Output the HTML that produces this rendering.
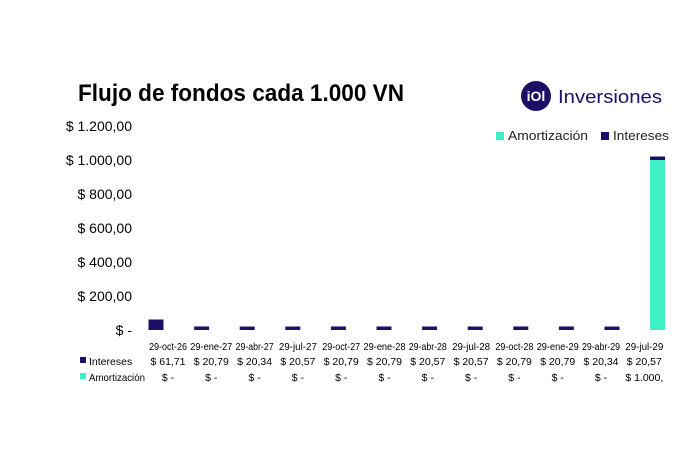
<!DOCTYPE html>
<html><head><meta charset="utf-8"><style>
body{margin:0;background:#fff;width:688px;height:450px;overflow:hidden;font-family:"Liberation Sans",Calibri,sans-serif}
svg text{font-family:"Liberation Sans",sans-serif}
</style></head><body>
<svg width="688" height="450">
<text x="78" y="101" font-size="24" font-weight="bold" fill="#000" textLength="326" lengthAdjust="spacingAndGlyphs">Flujo de fondos cada 1.000 VN</text>
<g>
<circle cx="536" cy="96" r="15" fill="#1e0f66"/>
<text x="536" y="101" font-size="14" font-weight="bold" fill="#fff" text-anchor="middle">iOl</text>
<text x="558" y="103" font-size="18" fill="#1e0f66" textLength="104" lengthAdjust="spacingAndGlyphs">Inversiones</text>
</g>
<g>
<rect x="496" y="132" width="8" height="8" fill="#40efc6"/>
<text x="508" y="140" font-size="13" fill="#222" textLength="80" lengthAdjust="spacingAndGlyphs">Amortización</text>
<rect x="601" y="132" width="8" height="8" fill="#1e0f66"/>
<text x="613" y="140" font-size="13" fill="#222" textLength="56" lengthAdjust="spacingAndGlyphs">Intereses</text>
</g>
<g id="yaxis"></g>
<g id="bars"></g>
<g id="table"></g>
</svg>
<script>
const categories=["29-oct-26","29-ene-27","29-abr-27","29-jul-27","29-oct-27","29-ene-28","29-abr-28","29-jul-28","29-oct-28","29-ene-29","29-abr-29","29-jul-29"];
const intereses=[61.71,20.79,20.34,20.57,20.79,20.79,20.57,20.57,20.79,20.79,20.34,20.57];
const amortizacion=[0,0,0,0,0,0,0,0,0,0,0,1000];
const interesesLabels=["$ 61,71","$ 20,79","$ 20,34","$ 20,57","$ 20,79","$ 20,79","$ 20,57","$ 20,57","$ 20,79","$ 20,79","$ 20,34","$ 20,57"];
const amortLabels=["$ -","$ -","$ -","$ -","$ -","$ -","$ -","$ -","$ -","$ -","$ -","$ 1.000,"];
const yTicks=[0,200,400,600,800,1000,1200];
const yTickLabels=["$ -","$ 200,00","$ 400,00","$ 600,00","$ 800,00","$ 1.000,00","$ 1.200,00"];
const NS="http://www.w3.org/2000/svg";
const y=v=>330-v*0.17;
const barX=i=>156+i*45.6;
const labX=i=>168+i*43.3;
function mk(tag,attrs,parent,txt){const e=document.createElementNS(NS,tag);for(const k in attrs)e.setAttribute(k,attrs[k]);if(txt!==undefined)e.textContent=txt;parent.appendChild(e);return e;}
const ya=document.getElementById('yaxis');
yTicks.forEach((t,i)=>{const e=mk('text',{x:132,y:y(t)+5,'font-size':14,fill:'#000','text-anchor':'end'},ya,yTickLabels[i]);

});
const bg=document.getElementById('bars');
categories.forEach((c,i)=>{
 const a=amortizacion[i],n=intereses[i];
 if(a>0){const r=mk('rect',{x:barX(i)-7.5,y:y(a),width:15,height:y(0)-y(a),fill:'#40efc6'},bg);
 
 }
 const r2=mk('rect',{x:barX(i)-7.5,y:y(a+n),width:15,height:y(a)-y(a+n),fill:'#1e0f66'},bg);
 
 
});
const tb=document.getElementById('table');
categories.forEach((c,i)=>{
 const t1=mk('text',{x:labX(i),y:350,'font-size':10,fill:'#000','text-anchor':'middle',textLength:c.includes('ene')?42:38,lengthAdjust:'spacingAndGlyphs'},tb,c);
 
 
 const t2=mk('text',{x:labX(i),y:365,'font-size':10.5,fill:'#000','text-anchor':'middle',textLength:35,lengthAdjust:'spacingAndGlyphs'},tb,interesesLabels[i]);
 
 
 const t3=mk('text',{x:labX(i),y:381,'font-size':10.5,fill:'#000','text-anchor':'middle'},tb,amortLabels[i]);
 
 
});
const s1=mk('rect',{x:80,y:357,width:6,height:6,fill:'#1e0f66'},tb);


const l1=mk('text',{x:89,y:365,'font-size':10.5,fill:'#000'},tb,'Intereses');


const s2=mk('rect',{x:80,y:373,width:6,height:6,fill:'#40efc6'},tb);


const l2=mk('text',{x:89,y:381,'font-size':10.5,fill:'#000',textLength:56,lengthAdjust:'spacingAndGlyphs'},tb,'Amortización');


</script>
</body></html>
